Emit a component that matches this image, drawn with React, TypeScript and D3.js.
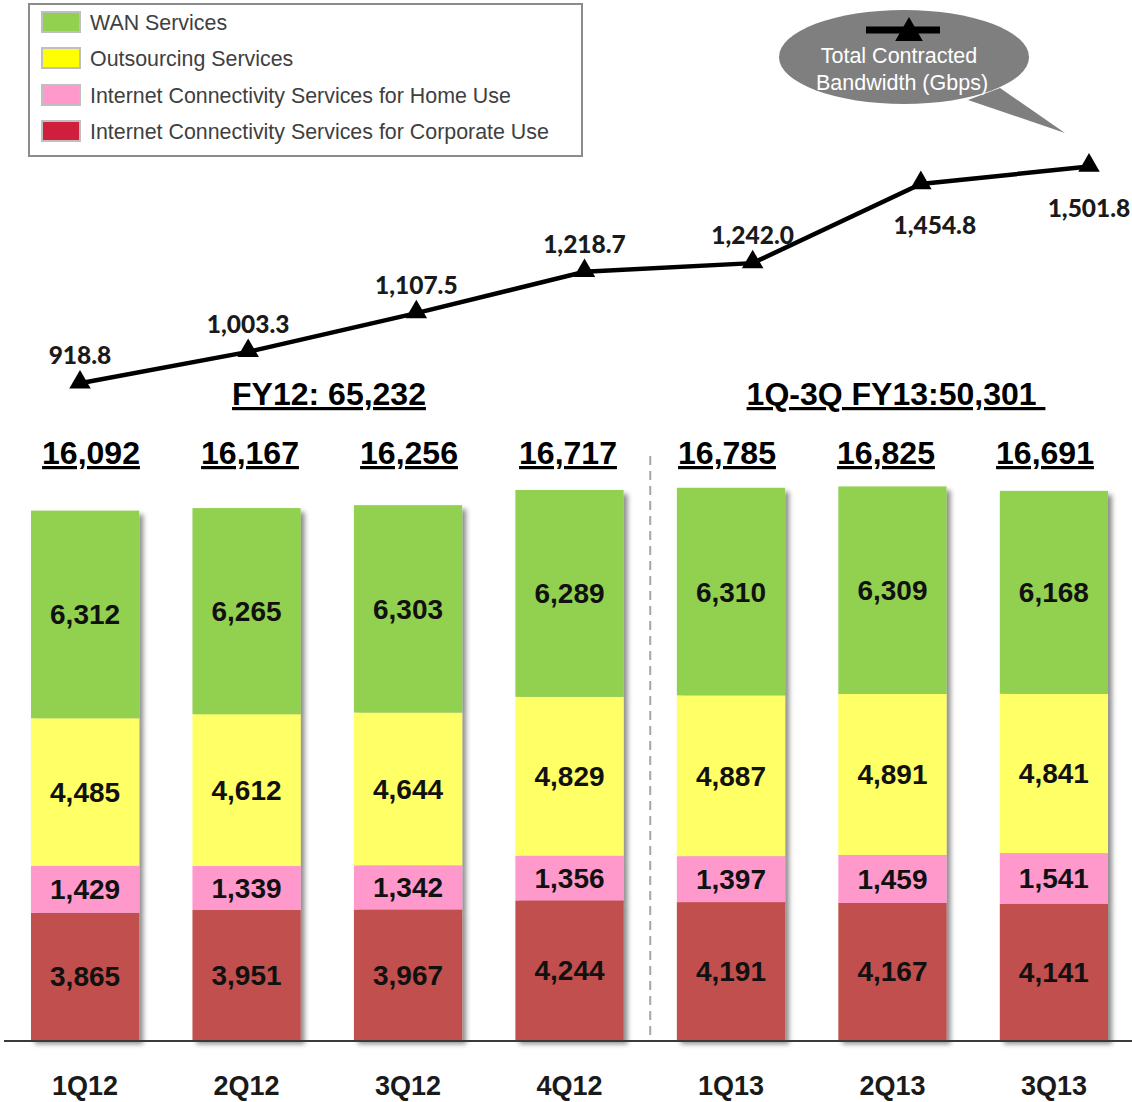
import React from "react";
import * as d3 from "d3";

const categories = ["1Q12", "2Q12", "3Q12", "4Q12", "1Q13", "2Q13", "3Q13"];
const corporate = [3865, 3951, 3967, 4244, 4191, 4167, 4141];
const home = [1429, 1339, 1342, 1356, 1397, 1459, 1541];
const outsourcing = [4485, 4612, 4644, 4829, 4887, 4891, 4841];
const wan = [6312, 6265, 6303, 6289, 6310, 6309, 6168];
const totals = ["16,092", "16,167", "16,256", "16,717", "16,785", "16,825", "16,691"];
const bandwidth = [918.8, 1003.3, 1107.5, 1218.7, 1242.0, 1454.8, 1501.8];
const bandwidthLabelSide = ["above", "above", "above", "above", "above", "below", "below"];
const periodHeaders = ["FY12: 65,232", "1Q-3Q FY13:50,301 "];

const seriesKeys = ["corporate", "home", "outsourcing", "wan"];
const seriesNames: Record<string, string> = {
  wan: "WAN Services",
  outsourcing: "Outsourcing Services",
  home: "Internet Connectivity Services for Home Use",
  corporate: "Internet Connectivity Services for Corporate Use",
};
const barColors: Record<string, string> = {
  wan: "#92d050",
  outsourcing: "#ffff66",
  home: "#ff99cc",
  corporate: "#c0504d",
};
const legendColors: Record<string, string> = {
  wan: "#92d050",
  outsourcing: "#ffff00",
  home: "#ff99cc",
  corporate: "#cf1f3d",
};
const legendOrder = ["wan", "outsourcing", "home", "corporate"];

const ARIAL = "'Liberation Sans', Arial, sans-serif";
const CAL = "Lato, 'Open Sans', sans-serif";

export default function App() {
  const W = 1132;
  const H = 1102;
  const rows = categories.map((c, i) => ({
    cat: c,
    corporate: corporate[i],
    home: home[i],
    outsourcing: outsourcing[i],
    wan: wan[i],
  }));
  const stack = d3.stack<any>().keys(seriesKeys)(rows);

  const x = d3.scaleBand<string>().domain(categories).range([31, 1108]).paddingInner(0.33).paddingOuter(0);
  const y = d3.scaleLinear().domain([0, 20000]).range([1040, 382]);
  const xl = d3.scalePoint<string>().domain(categories).range([80, 1089]);
  const yl = d3.scaleLinear().domain([0, 1600]).range([725, 130]);
  const xt = d3.scalePoint<string>().domain(categories).range([91, 1045]);

  const line = d3
    .line<number>()
    .x((_, i) => xl(categories[i])!)
    .y((d) => yl(d));
  const tri = d3.symbol().type(d3.symbolTriangle).size(200)()!;
  const bigTri = d3.symbol().type(d3.symbolTriangle).size(330)()!;

  const bw = x.bandwidth();
  const sepX = (x(categories[3])! + bw + x(categories[4])!) / 2;
  const last = bandwidth.length - 1;

  return (
    <svg width={W} height={H} style={{ display: "block", position: "absolute", left: 0, top: 0 }}>
      <defs>
        <filter id="sh" x="-10%" y="-5%" width="130%" height="115%">
          <feDropShadow dx="4" dy="4" stdDeviation="2.5" floodColor="#000" floodOpacity="0.45" />
        </filter>
      </defs>
      <rect width={W} height={H} fill="#fff" />

      {/* legend */}
      <rect x={29} y={4} width={553} height={152} fill="#fff" stroke="#8c8c8c" strokeWidth={2} />
      {legendOrder.map((k, i) => {
        const cy = [22, 58, 95, 131][i];
        return (
          <g key={k}>
            <rect x={42} y={cy - 10} width={38} height={20} fill={legendColors[k]} stroke="#bfbfbf" strokeWidth={2} />
            <text x={90} y={cy + 8} fontFamily={ARIAL} fontSize={21.4} fill="#404040">
              {seriesNames[k]}
            </text>
          </g>
        );
      })}

      {/* callout */}
      <g>
        <polygon points="1000,88 1065,133 968,100" fill="#7f7f7f" />
        <ellipse cx={904} cy={57} rx={125} ry={47} fill="#7f7f7f" />
        <line x1={866} x2={940} y1={30} y2={30} stroke="#000" strokeWidth={7} />
        <path d={bigTri} transform="translate(909,33)" fill="#000" />
        <text x={899} y={63} textAnchor="middle" fontFamily={ARIAL} fontSize={21.5} fill="#fff">
          Total Contracted
        </text>
        <text x={902} y={90} textAnchor="middle" fontFamily={ARIAL} fontSize={21.5} fill="#fff">
          Bandwidth (Gbps)
        </text>
      </g>

      {/* line */}
      <path d={line(bandwidth)!} fill="none" stroke="#000" strokeWidth={4.5} />
      {bandwidth.map((v, i) => {
        const px = xl(categories[i])!;
        const py = yl(v);
        const below = bandwidthLabelSide[i] === "below";
        const dx = below && i !== last ? 14 : 0;
        return (
          <g key={i}>
            <path d={tri} transform={`translate(${px},${py - 1})`} fill="#000" />
            <text
              x={px + dx}
              y={below ? py + 50 : py - 19}
              textAnchor="middle"
              fontFamily={CAL}
              fontWeight={900}
              fontSize={24.5}
              fill="#1a1a1a"
            >
              {d3.format(",.1f")(v)}
            </text>
          </g>
        );
      })}

      {/* period headers */}
      <text x={329} y={405} textAnchor="middle" fontFamily={ARIAL} fontWeight={700} fontSize={32} fill="#000" textDecoration="underline">
        {periodHeaders[0]}
      </text>
      <text x={896} y={405} textAnchor="middle" fontFamily={ARIAL} fontWeight={700} fontSize={32} fill="#000" textDecoration="underline" style={{ whiteSpace: "pre" }}>
        {periodHeaders[1]}
      </text>

      {/* totals */}
      {categories.map((c, i) => (
        <text key={c} x={xt(c)!} y={464} textAnchor="middle" fontFamily={ARIAL} fontWeight={700} fontSize={32} fill="#000" textDecoration="underline">
          {totals[i]}
        </text>
      ))}

      {/* separator */}
      <line x1={sepX} x2={sepX} y1={456} y2={1040} stroke="#a6a6a6" strokeWidth={2} strokeDasharray="9,6" />

      {/* bars */}
      {categories.map((c, i) => (
        <g key={c} filter="url(#sh)">
          {stack.map((s) => (
            <rect
              key={s.key}
              x={x(c)}
              y={y(s[i][1])}
              width={bw}
              height={y(s[i][0]) - y(s[i][1])}
              fill={barColors[s.key]}
            />
          ))}
        </g>
      ))}
      {categories.map((c, i) => (
        <g key={c}>
          {stack.map((s) => (
            <text
              key={s.key}
              x={x(c)! + bw / 2}
              y={(y(s[i][0]) + y(s[i][1])) / 2 + 10}
              textAnchor="middle"
              fontFamily={ARIAL}
              fontWeight={700}
              fontSize={28}
              fill="#111"
            >
              {d3.format(",")(s[i][1] - s[i][0])}
            </text>
          ))}
        </g>
      ))}

      {/* baseline */}
      <line x1={4} x2={1132} y1={1041} y2={1041} stroke="#3a3a3a" strokeWidth={2} />

      {/* x labels */}
      {categories.map((c) => (
        <text key={c} x={x(c)! + bw / 2} y={1095} textAnchor="middle" fontFamily={ARIAL} fontWeight={700} fontSize={27} fill="#1a1a1a">
          {c}
        </text>
      ))}
    </svg>
  );
}
